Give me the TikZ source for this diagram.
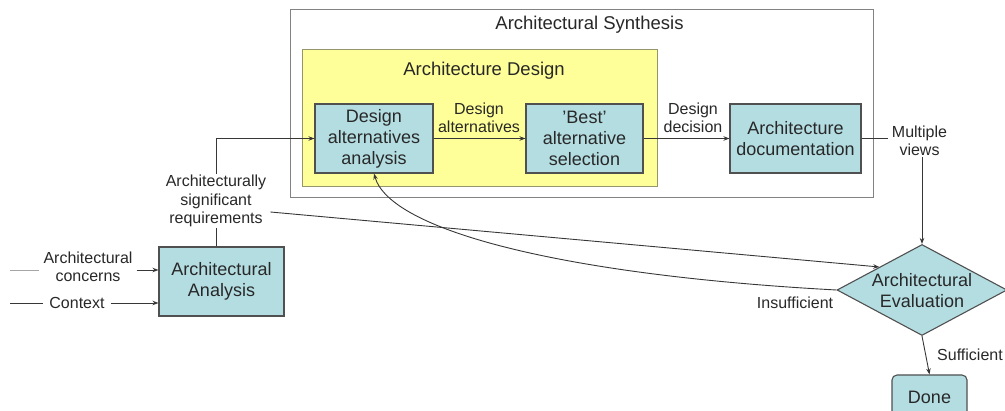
\documentclass[tikz,border=0pt]{standalone}
\usepackage{fontspec}
\setmainfont{Liberation Sans}
\usetikzlibrary{arrows.meta,shapes.geometric}
\definecolor{boxfill}{RGB}{180,221,226}
\definecolor{boxline}{RGB}{80,80,80}
\definecolor{yel}{RGB}{255,255,153}
\definecolor{yelline}{RGB}{150,150,110}
\definecolor{outline}{RGB}{130,130,130}
\definecolor{ink}{RGB}{40,40,40}
\definecolor{wire}{RGB}{55,55,55}
\tikzset{
  procbox/.style={draw=boxline, line width=1.1pt, fill=boxfill, inner sep=0pt, align=center,
    font=\fontsize{18}{21}\selectfont, text=ink},
  lbl/.style={align=center, inner ysep=1pt, inner xsep=4pt, font=\fontsize{16}{18.5}\selectfont, text=ink},
  ttl/.style={inner sep=0pt, font=\fontsize{18.5}{22}\selectfont, text=ink},
  conn/.style={draw=wire, line width=0.9pt},
  arr/.style={conn, -{Stealth[length=6pt,width=4.5pt]}},
}
\begin{document}
\begin{tikzpicture}[x=1pt,y=-1pt]
\useasboundingbox (0,0) rectangle (1005,411);
\clip (0,0) rectangle (1005,411);
% containers
\node[draw=outline, line width=1pt, fill=white, minimum width=583pt, minimum height=188pt, inner sep=0pt] (syn) at (581.5,104) {};
\node[ttl] (synt) at (589.5,25) {Architectural Synthesis};
\node[draw=yelline, line width=1pt, fill=yel, minimum width=355pt, minimum height=137pt, inner sep=0pt] (des) at (479.5,118.5) {};
\node[ttl] (dest) at (484,71) {Architecture Design};
% process boxes
\node[procbox, minimum width=118pt, minimum height=69pt] (daa) at (374,138.5) {Design\\alternatives\\analysis};
\node[procbox, minimum width=117pt, minimum height=69pt] (best) at (584.5,138.5) {'Best'\\alternative\\selection};
\node[procbox, minimum width=131pt, minimum height=69pt] (doc) at (795.5,138.5) {Architecture\\documentation};
\node[procbox, minimum width=125pt, minimum height=69pt] (aa) at (221.5,281.5) {Architectural\\Analysis};
\node[draw=boxline, line width=1.1pt, fill=boxfill, diamond, inner sep=0pt, minimum width=170pt, minimum height=91pt] (ev) at (922,290) {};
\node[align=center, inner sep=0pt, font=\fontsize{18}{21}\selectfont, text=ink] (evt) at (922,291) {Architectural\\Evaluation};
\node[procbox, rounded corners=5pt, minimum width=75pt, minimum height=44pt] (done) at (929.5,397) {};
\node[inner sep=0pt, font=\fontsize{18}{21}\selectfont, text=ink] (donet) at (929.5,397) {Done};
% labels
\node[lbl] (conc) at (88,267) {Architectural\\concerns};
\node[lbl, inner xsep=6pt] (ctx) at (77,303) {Context};
\node[lbl] (req) at (216,201) {Architecturally\\significant\\requirements};
\node[lbl] (dalt) at (479,118) {Design\\alternatives};
\node[lbl] (ddec) at (693,118) {Design\\decision};
\node[lbl] (mv) at (919.5,141) {Multiple\\views};
\node[lbl] (ins) at (795,303) {Insufficient};
\node[lbl] (suf) at (970,355) {Sufficient};
\coordinate (c0) at (10,270);
\coordinate (c1) at (10,303);
% connectors
\draw[conn, draw=gray!70] (c0) -- (conc.west |- c0);
\draw[arr] (conc.east |- c0) -- (aa.west |- c0);
\draw[conn] (c1) -- (ctx.west);
\draw[arr] (ctx.east) -- (aa.west |- c1);
\draw[conn] (aa.north -| req) -- (req.south);
\draw[arr] (req.north) |- (daa.west);
\draw[arr] (daa.east) -- (best.west);
\draw[arr] (best.east) -- (doc.west);
\draw[conn] (doc.east) -- (mv.west |- doc.east);
\draw[arr] (mv.south -| ev.north) -- (ev.north);
\draw[arr] ([yshift=-11pt]req.east) -- (ev.north west);
\draw[arr] (ev.west) .. controls (560,275) and (390,230) .. (daa.south);
\draw[arr] (ev.south) -- (done.north);
\end{tikzpicture}
\end{document}
